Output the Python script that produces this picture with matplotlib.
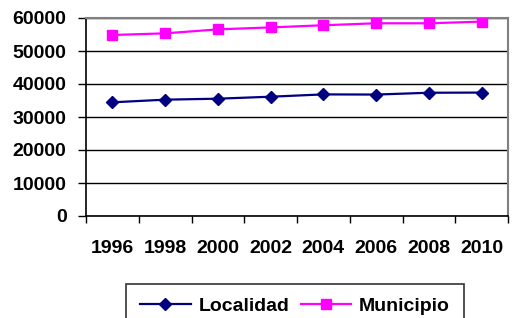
import numpy as np
import matplotlib.pyplot as plt

plt.rcParams['font.family'] = ['Liberation Sans', 'DejaVu Sans']
plt.rcParams['font.weight'] = 'bold'

years = ['1996', '1998', '2000', '2002', '2004', '2006', '2008', '2010']
localidad = [34450, 35250, 35550, 36150, 36850, 36800, 37350, 37400]
municipio = [54850, 55350, 56550, 57150, 57800, 58400, 58400, 58900]

fig = plt.figure(figsize=(5.13, 3.18), dpi=100)
ax = fig.add_axes([86/513, 1 - 216/318, 422/513, 198/318])

x = np.arange(len(years))
ax.plot(x, localidad, color='#000080', lw=1.6, marker='D', ms=6.5,
        label='Localidad', zorder=3)
ax.plot(x, municipio, color='#FF00FF', lw=1.6, marker='s', ms=7.5,
        label='Municipio', zorder=3)

ax.set_xlim(-0.5, len(years) - 0.5)
ax.set_ylim(0, 60000)
ax.set_yticks(range(0, 60001, 10000))
ax.yaxis.grid(True, color='black', lw=1)
ax.set_axisbelow(True)

ax.set_xticks(x)
ax.set_xticklabels(years)
ax.set_xticks(np.arange(-0.5, len(years)), minor=True)
ax.tick_params(axis='x', which='major', length=0, pad=17, labelsize=14)
ax.tick_params(axis='x', which='minor', length=5, width=1)
ax.tick_params(axis='y', length=6, width=1, pad=8, labelsize=14)

for s in ['left', 'bottom']:
    ax.spines[s].set_color('black')
    ax.spines[s].set_linewidth(1.2)
for s in ['top', 'right']:
    ax.spines[s].set_color('#808080')
    ax.spines[s].set_linewidth(1.5)

leg = fig.legend(loc='upper center', bbox_to_anchor=(295/513, 1 - 284/318),
                 ncol=2, fontsize=14, frameon=True, fancybox=False,
                 handlelength=2.6, columnspacing=0.6, handletextpad=0.4,
                 borderpad=0.7, borderaxespad=0)
leg.get_frame().set_edgecolor('black')
leg.get_frame().set_linewidth(1.2)

fig.savefig('out.png', dpi=100)
